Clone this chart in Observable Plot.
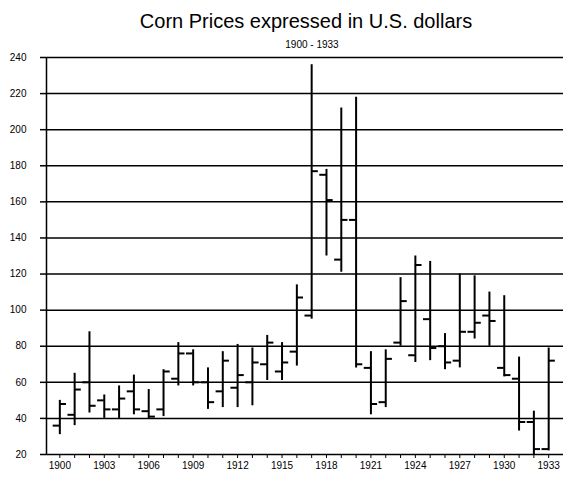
<!DOCTYPE html>
<html><head><meta charset="utf-8">
<script src="https://cdn.jsdelivr.net/npm/d3@7"></script>
<script src="https://cdn.jsdelivr.net/npm/@observablehq/plot@0.6"></script>
<style>
body{margin:0;background:#fff;font-family:"Liberation Sans",Arial,sans-serif;color:#000;}
#wrap{width:568px;height:493px;overflow:hidden;}
#title{height:38px;box-sizing:border-box;padding-top:4px;line-height:34px;font-size:20px;text-align:center;padding-left:44px;}
#sub{height:14px;line-height:14px;font-size:10px;text-align:center;padding-left:56px;}
</style></head><body>
<div id="wrap">
<div id="title">Corn Prices expressed in U.S. dollars</div>
<div id="sub">1900 - 1933</div>
<div id="chart"></div>
</div>
<script>
const years = d3.range(1900, 1934);
const openV  = [36,42,60,50,45,55,44,45,62,76,60,55,57,60,70,66,77,97,175,128,150,68,49,82,75,95,80,72,88,97,68,62,38,23];
const highV  = [50,65,88,53,58,64,56,67,82,78,68,77,81,79,86,82,114,236,178,212,218,77,78,118,130,127,87,120,119,110,108,74,44,79];
const lowV   = [31,36,43,40,40,42,40,41,58,58,45,46,46,47,61,61,69,95,130,121,68,42,46,80,71,72,67,68,84,80,63,33,19.5,22];
const closeV = [48,56,47,45,51,45,41,66,76,60,49,72,64,71,82,71,107,177,161,150,70,48,73,105,125,79,71,88,93,94,64,38,23,72];
const yTicks = [20,40,60,80,100,120,140,160,180,200,220,240];
const labelYears = [1900,1903,1906,1909,1912,1915,1918,1921,1924,1927,1930,1933];

const data = years.map((y,i)=>({year:y, open:openV[i], high:highV[i], low:lowV[i], close:closeV[i]}));
const xStart = 1899.1, xEnd = 1934;

const chart = Plot.plot({
  width: 568,
  height: 425,
  marginTop: 5,
  marginBottom: 23,
  marginLeft: 46,
  marginRight: 5,
  style: {fontFamily: "Liberation Sans, Arial, sans-serif", fontSize: "10px", background: "white", color: "black"},
  x: {type: "linear", domain: [xStart, xEnd]},
  y: {domain: [20, 240]},
  marks: [
    Plot.ruleY(yTicks, {x1: xStart, x2: xEnd, stroke: "black", strokeWidth: 1.5}),
    Plot.ruleX([xStart], {y1: 20, y2: 240, stroke: "black", strokeWidth: 1.5}),
    Plot.axisY({ticks: yTicks, tickSize: 6, tickPadding: 14, tickFormat: d => String(d), label: null, stroke: "black", strokeWidth: 1.5}),
    Plot.axisX({ticks: labelYears, tickSize: 0, tickPadding: 7, tickFormat: d => String(d), label: null, fontSize: 10}),
    Plot.axisX({ticks: years, tickSize: 4, tickFormat: () => "", label: null, stroke: "black"}),
    Plot.ruleX(data, {x: "year", y1: "low", y2: "high", stroke: "black", strokeWidth: 2}),
    Plot.ruleY(data, {y: "open", x1: d => d.year - 0.45, x2: "year", stroke: "black", strokeWidth: 2}),
    Plot.ruleY(data, {y: "close", x1: "year", x2: d => d.year + 0.45, stroke: "black", strokeWidth: 2})
  ]
});
document.getElementById("chart").appendChild(chart);
</script>
</body></html>
